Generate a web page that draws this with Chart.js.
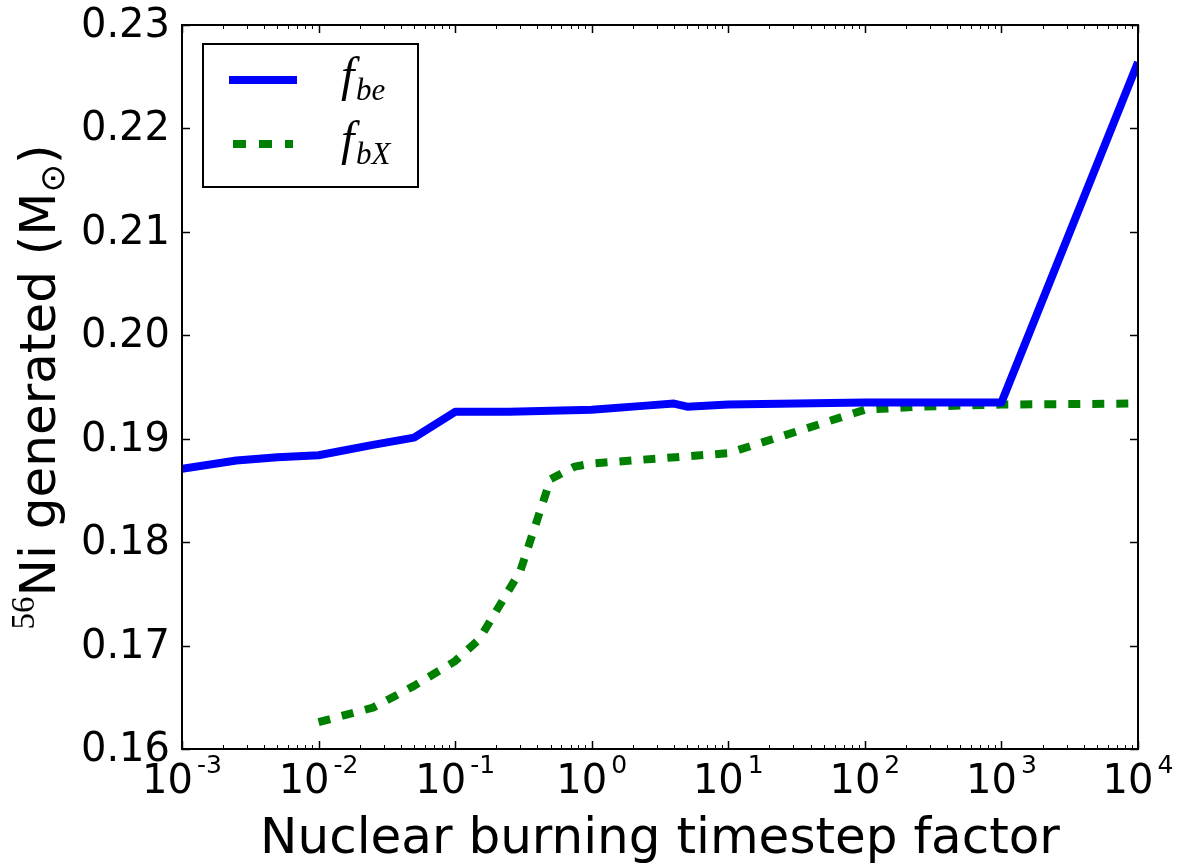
<!DOCTYPE html>
<html>
<head>
<meta charset="utf-8">
<script src="https://cdn.jsdelivr.net/npm/chart.js@4.4.1/dist/chart.umd.min.js"></script>
<style>
  html, body { margin: 0; padding: 0; background: #fff; }
  #wrap { width: 1182px; height: 865px; }
</style>
</head>
<body>
<div id="wrap"><canvas id="myChart"></canvas></div>
<script>
// f_be run
const beX = [0.001, 0.0025, 0.005, 0.01, 0.025, 0.05, 0.1, 0.25, 0.5, 1, 2.5, 4, 5, 10, 100, 1000, 10000];
const beY = [0.1871, 0.1879, 0.1882, 0.1884, 0.1894, 0.1901, 0.1926, 0.1926, 0.1927, 0.1928, 0.1932, 0.1934, 0.1931, 0.1933, 0.1935, 0.1935, 0.2264];

// f_bX run
const bXX = [0.01, 0.025, 0.05, 0.1, 0.15, 0.3, 0.5, 0.75, 1, 10, 100, 250, 1000, 10000];
const bXY = [0.1626, 0.1640, 0.1661, 0.1685, 0.1706, 0.1772, 0.1861, 0.1873, 0.1876, 0.1886, 0.1928, 0.1931, 0.1933, 0.1934];

// ticks
const xExponents = [-3, -2, -1, 0, 1, 2, 3, 4];
const xTickLabels = ['-3', '-2', '-1', '0', '1', '2', '3', '4'];
const yTicks = [0.16, 0.17, 0.18, 0.19, 0.20, 0.21, 0.22, 0.23];
const yTickLabels = ['0.16', '0.17', '0.18', '0.19', '0.20', '0.21', '0.22', '0.23'];

const toPoints = (xs, ys) => xs.map((v, i) => ({ x: v, y: ys[i] }));

const SANS = '"DejaVu Sans", sans-serif';
const SERIF = '"Liberation Serif", serif';

// matplotlib-like frame, inward ticks, labels and legend
const mplAxes = {
  id: 'mplAxes',
  afterDatasetsDraw(chart) {
    const { ctx, chartArea: a, scales: { x, y } } = chart;
    ctx.save();
    ctx.strokeStyle = '#000';
    ctx.fillStyle = '#000';

    const seg = (x1, y1, x2, y2) => { ctx.beginPath(); ctx.moveTo(x1, y1); ctx.lineTo(x2, y2); ctx.stroke(); };

    // y ticks, left and right
    ctx.lineWidth = 1.5;
    yTicks.forEach(v => {
      const py = Math.round(y.getPixelForValue(v)) + 0.5;
      seg(a.left, py, a.left + 8, py);
      seg(a.right, py, a.right - 8, py);
    });

    // x ticks, major and minor, bottom and top
    xExponents.forEach(e => {
      const px = Math.round(x.getPixelForValue(Math.pow(10, e))) + 0.5;
      ctx.lineWidth = 1.5;
      seg(px, a.bottom, px, a.bottom - 8);
      seg(px, a.top, px, a.top + 8);
      if (e < 4) {
        ctx.lineWidth = 1;
        for (let k = 2; k <= 9; k++) {
          const mx = Math.round(x.getPixelForValue(k * Math.pow(10, e))) + 0.5;
          seg(mx, a.bottom, mx, a.bottom - 4);
          seg(mx, a.top, mx, a.top + 4);
        }
      }
    });

    // frame
    ctx.lineWidth = 2;
    ctx.strokeRect(a.left, a.top, a.right - a.left, a.bottom - a.top);

    // y tick labels
    ctx.font = '40px ' + SANS;
    ctx.textAlign = 'right';
    ctx.textBaseline = 'alphabetic';
    yTicks.forEach((v, i) => {
      ctx.fillText(yTickLabels[i], a.left - 12, y.getPixelForValue(v) + 12);
    });

    // x tick labels 10^n
    ctx.textAlign = 'left';
    xExponents.forEach((e, i) => {
      const px = x.getPixelForValue(Math.pow(10, e));
      ctx.font = '40px ' + SANS;
      const wb = ctx.measureText('10').width;
      ctx.font = '25px ' + SANS;
      const ws = ctx.measureText(xTickLabels[i]).width;
      const start = px - (wb + 4 + ws) / 2;
      ctx.font = '40px ' + SANS;
      ctx.fillText('10', start, a.bottom + 44);
      ctx.font = '25px ' + SANS;
      ctx.fillText(xTickLabels[i], start + wb + 4, a.bottom + 24);
    });

    // x axis title
    ctx.font = '50px ' + SANS;
    ctx.textAlign = 'center';
    ctx.fillText('Nuclear burning timestep factor', (a.left + a.right) / 2, a.bottom + 104);

    // y axis title, rotated
    ctx.save();
    ctx.translate(55, (a.top + a.bottom) / 2);
    ctx.rotate(-Math.PI / 2);
    ctx.textAlign = 'left';
    const mainTxt = 'Ni generated (M';
    ctx.font = '33px ' + SERIF; const w56 = ctx.measureText('56').width;
    ctx.font = '50px ' + SANS; const wMain = ctx.measureText(mainTxt).width; const wPar = ctx.measureText(')').width;
    ctx.font = '34px ' + SANS; const wSun = ctx.measureText('\u2299').width;
    let u = -(w56 + wMain + wSun + wPar) / 2;
    ctx.font = '33px ' + SERIF; ctx.fillText('56', u, -21); u += w56;
    ctx.font = '50px ' + SANS; ctx.fillText(mainTxt, u, 0); u += wMain;
    ctx.font = '34px ' + SANS; ctx.fillText('\u2299', u, 9); u += wSun;
    ctx.font = '50px ' + SANS; ctx.fillText(')', u, 0);
    ctx.restore();

    // legend
    const lx = 203, ly = 44, lw = 215, lh = 143;
    ctx.fillStyle = '#fff';
    ctx.fillRect(lx, ly, lw, lh);
    ctx.lineWidth = 2;
    ctx.strokeRect(lx, ly, lw, lh);
    const ds = chart.data.datasets;
    ds.forEach((d, i) => {
      const ry = 80 + i * 64;
      ctx.save();
      ctx.strokeStyle = d.borderColor;
      ctx.lineWidth = d.borderWidth;
      ctx.lineCap = d.borderDash.length ? 'butt' : 'square';
      ctx.setLineDash(d.borderDash.length ? [13, 13] : []);
      seg(233, ry, 293, ry);
      ctx.restore();
      ctx.fillStyle = '#000';
      ctx.textAlign = 'left';
      ctx.font = 'italic 48px ' + SERIF;
      ctx.fillText('f', 341, ry + 11);
      ctx.font = 'italic 31px ' + SERIF;
      ctx.fillText(d.sub, 356, ry + 20);
    });

    ctx.restore();
  }
};

new Chart(document.getElementById('myChart'), {
  type: 'line',
  data: {
    datasets: [
      {
        label: 'f_be',
        sub: 'be',
        data: toPoints(beX, beY),
        borderColor: '#0000ff',
        borderWidth: 8,
        borderDash: [],
        borderJoinStyle: 'round',
        pointRadius: 0,
        tension: 0,
        fill: false,
        clip: 0
      },
      {
        label: 'f_bX',
        sub: 'bX',
        data: toPoints(bXX, bXY),
        borderColor: '#008000',
        borderWidth: 8,
        borderDash: [12, 12],
        borderCapStyle: 'butt',
        borderJoinStyle: 'round',
        pointRadius: 0,
        tension: 0,
        fill: false,
        clip: 0
      }
    ]
  },
  options: {
    responsive: true,
    maintainAspectRatio: false,
    animation: false,
    devicePixelRatio: 1,
    layout: { padding: { left: 182, top: 25, right: 44, bottom: 116 } },
    plugins: { legend: { display: false }, tooltip: { enabled: false } },
    scales: {
      x: { type: 'logarithmic', min: 0.001, max: 10000, display: false },
      y: { type: 'linear', min: 0.16, max: 0.23, display: false }
    }
  },
  plugins: [mplAxes]
});
</script>
</body>
</html>
